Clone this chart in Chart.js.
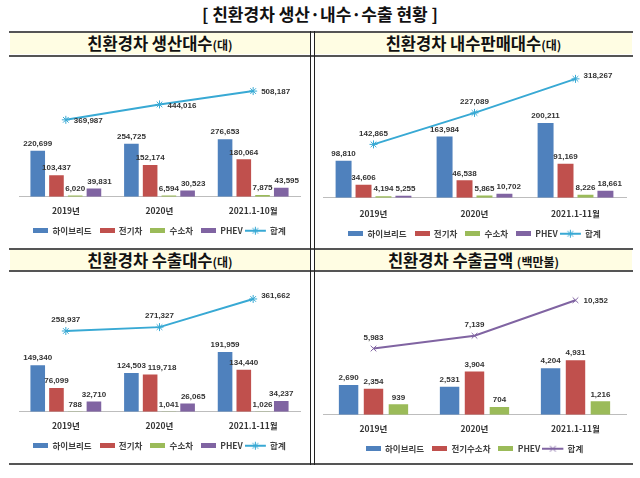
<!DOCTYPE html>
<html>
<head>
<meta charset="utf-8">
<script src="https://cdn.jsdelivr.net/npm/chart.js@4.4.1/dist/chart.umd.min.js"></script>
<style>
  body { margin: 0; width: 640px; height: 478px; background: #fff; position: relative; overflow: hidden;
         font-family: "Noto Sans CJK KR", sans-serif; color: #111; }
  .title { position: absolute; top: 1px; left: 0; width: 640px; text-align: center; font-size: 17px; font-weight: bold; }
  .hline { position: absolute; left: 9px; width: 624px; height: 2px; background: #555; }
  .vline { position: absolute; top: 31px; width: 1px; height: 434px; background: #222; }
  .hdr { position: absolute; height: 21px; background: #fffde3; text-align: center; font-weight: bold;
         font-size: 16.5px; line-height: 21px; }
  .hdr small { font-size: 12px; }
  canvas { position: absolute; }
</style>
</head>
<body>
<div class="title">[ 친환경차 생산·내수·수출 현황 ]</div>

<div class="hdr" style="top:33px;left:10px;width:300px">친환경차 생산대수<small>(대)</small></div>
<div class="hdr" style="top:33px;left:315px;width:317px">친환경차 내수판매대수<small>(대)</small></div>
<div class="hdr" style="top:250px;left:10px;width:300px">친환경차 수출대수<small>(대)</small></div>
<div class="hdr" style="top:250px;left:315px;width:317px">친환경차 수출금액 <small>(백만불)</small></div>

<div class="hline" style="top:31px"></div>
<div class="hline" style="top:55px"></div>
<div class="hline" style="top:248px"></div>
<div class="hline" style="top:270px"></div>
<div class="hline" style="top:463px"></div>
<div class="vline" style="left:310px"></div>
<div class="vline" style="left:314px"></div>

<canvas id="prodChart" width="300" height="191" style="left:10px;top:57px"></canvas>
<canvas id="domChart" width="317" height="191" style="left:315px;top:57px"></canvas>
<canvas id="expChart" width="300" height="191" style="left:10px;top:272px"></canvas>
<canvas id="amtChart" width="317" height="191" style="left:315px;top:272px"></canvas>

<script>
/* ===================== DATA ===================== */
const years10 = ["2019년", "2020년", "2021.1-10월"];
const years11 = ["2019년", "2020년", "2021.1-11월"];
const unitNames = ["하이브리드", "전기차", "수소차", "PHEV", "합계"];
const amountNames = ["하이브리드", "전기수소차", "PHEV", "합계"];

// 생산대수
const prodHybrid = [220699, 254725, 276653];
const prodEV = [103437, 152174, 180064];
const prodFCEV = [6020, 6594, 7875];
const prodPHEV = [39831, 30523, 43595];
const prodTotal = [369987, 444016, 508187];

// 내수판매대수
const domHybrid = [98810, 163984, 200211];
const domEV = [34606, 46538, 91169];
const domFCEV = [4194, 5865, 8226];
const domPHEV = [5255, 10702, 18661];
const domTotal = [142865, 227089, 318267];

// 수출대수
const expHybrid = [149340, 124503, 191959];
const expEV = [76099, 119718, 134440];
const expFCEV = [788, 1041, 1026];
const expPHEV = [32710, 26065, 34237];
const expTotal = [258937, 271327, 361662];

// 수출금액 (백만불)
const amtHybrid = [2690, 2531, 4204];
const amtEVFC = [2354, 3904, 4931];
const amtPHEV = [939, 704, 1216];
const amtTotal = [5983, 7139, 10352];

/* ===================== STYLE ===================== */
const BLUE = "#4f81bd", RED = "#c0504d", GREEN = "#9bbb59", PURPLE = "#8064a2", CYAN = "#38a9d4";
const KR = "'Noto Sans CJK KR', sans-serif";
const LABEL_FONT = "bold 8px 'Liberation Sans', Arial, sans-serif";

/* ===================== LEGEND ICONS ===================== */
function boxIcon(color) {
  const c = document.createElement("canvas");
  c.width = 15; c.height = 5;
  const g = c.getContext("2d");
  g.fillStyle = color;
  g.fillRect(0, 0, 15, 5);
  return c;
}

function drawMarker(g, x, y, r, style) {
  g.beginPath();
  if (style === "star") {
    g.moveTo(x - r, y); g.lineTo(x + r, y);
    g.moveTo(x, y - r); g.lineTo(x, y + r);
  }
  const d = r * 0.72;
  g.moveTo(x - d, y - d); g.lineTo(x + d, y + d);
  g.moveTo(x - d, y + d); g.lineTo(x + d, y - d);
  g.stroke();
}

// drawn centred on the 15px legend box, reaching 6px further left
function lineIcon(color, style) {
  const c = document.createElement("canvas");
  c.width = 27; c.height = 10;
  const g = c.getContext("2d");
  g.strokeStyle = color;
  g.lineWidth = 2;
  g.beginPath(); g.moveTo(0, 5); g.lineTo(21, 5); g.stroke();
  g.lineWidth = 1;
  drawMarker(g, 10.5, 5, 4, style);
  return c;
}

/* ===================== VALUE LABELS ===================== */
const valueLabels = {
  id: "valueLabels",
  afterDatasetsDraw(chart, args, opts) {
    const ctx = chart.ctx;
    ctx.save();
    ctx.font = LABEL_FONT;
    ctx.fillStyle = "#333";
    const placed = {};
    chart.data.datasets.forEach((ds, di) => {
      chart.getDatasetMeta(di).data.forEach((el, i) => {
        const txt = ds.data[i].toLocaleString("en-US");
        if (ds.type === "line") {
          if (opts.linePos[i] === "right") {
            ctx.textAlign = "left"; ctx.textBaseline = "middle";
            ctx.fillText(txt, el.x + 8, el.y + opts.rightDy);
          } else {
            ctx.textAlign = "center"; ctx.textBaseline = "bottom";
            ctx.fillText(txt, el.x, el.y - 7);
          }
          return;
        }
        // bar label: push right if it runs into the previous one
        const w = ctx.measureText(txt).width;
        let x = el.x;
        const y = el.y - 3;
        const prev = placed[i];
        if (prev && y - 8 < prev.bottom && y > prev.bottom - 8 && x - w / 2 < prev.right + 2)
          x = prev.right + 2 + w / 2;
        placed[i] = { right: x + w / 2, bottom: y };
        ctx.textAlign = "center"; ctx.textBaseline = "bottom";
        ctx.fillText(txt, x, y);
      });
    });
    ctx.restore();
  }
};

/* ===================== DATASETS ===================== */
const bar = (label, data, color) => ({ label, data, backgroundColor: color, borderWidth: 0, icon: boxIcon(color) });
const line = (label, data, color, marker) => ({
  type: "line", label, data, borderColor: color, backgroundColor: color, borderWidth: 2,
  pointStyle: marker, pointRadius: 4, pointBorderWidth: 1, pointBorderColor: color,
  icon: lineIcon(color, marker)
});

/* ===================== CHART FACTORY ===================== */
// box: padding, tick padding and axis height for each panel
function makeChart(id, labels, datasets, yMax, linePos, rightDy, barOpts, box) {
  return new Chart(document.getElementById(id), {
    type: "bar",
    data: { labels, datasets },
    options: {
      responsive: false,
      animation: false,
      layout: { padding: box.pad },
      datasets: { bar: barOpts },
      scales: {
        x: {
          grid: { display: false, drawTicks: false },
          border: { color: "#bdbdbd" },
          ticks: { padding: box.tickPad, color: "#333", font: { family: KR, size: 8.5, weight: "bold" } },
          afterFit: s => { s.height = box.axisH; }
        },
        y: { display: false, min: 0, max: yMax }
      },
      plugins: {
        tooltip: { enabled: false },
        legend: {
          position: "bottom",
          labels: {
            usePointStyle: true,
            pointStyleWidth: 15,
            padding: 8,
            color: "#404040",
            font: { family: KR, size: 8.5, weight: "bold" },
            generateLabels: ch => Chart.defaults.plugins.legend.labels.generateLabels(ch)
              .map(it => ({ ...it, pointStyle: ch.data.datasets[it.datasetIndex].icon }))
          }
        },
        valueLabels: { linePos, rightDy }
      }
    },
    plugins: [valueLabels]
  });
}

/* ===================== DRAW ===================== */
const fourBars = { categoryPercentage: 0.8, barPercentage: 0.78 };
const leftBox = { pad: { top: 15, left: 9, right: 10, bottom: 3 }, tickPad: 9, axisH: 21.75 };

makeChart("prodChart", years10, [
  bar(unitNames[0], prodHybrid, BLUE),
  bar(unitNames[1], prodEV, RED),
  bar(unitNames[2], prodFCEV, GREEN),
  bar(unitNames[3], prodPHEV, PURPLE),
  line(unitNames[4], prodTotal, CYAN, "star")
], 600000, ["right", "right", "right"], 1, fourBars, leftBox);

makeChart("domChart", years11, [
  bar(unitNames[0], domHybrid, BLUE),
  bar(unitNames[1], domEV, RED),
  bar(unitNames[2], domFCEV, GREEN),
  bar(unitNames[3], domPHEV, PURPLE),
  line(unitNames[4], domTotal, CYAN, "star")
], 350000, ["top", "top", "right"], -3, { categoryPercentage: 0.79, barPercentage: 0.8 },
{ pad: { top: 10, left: 8, right: 6, bottom: 0 }, tickPad: 11, axisH: 23.75 });

makeChart("expChart", years11, [
  bar(unitNames[0], expHybrid, BLUE),
  bar(unitNames[1], expEV, RED),
  bar(unitNames[2], expFCEV, GREEN),
  bar(unitNames[3], expPHEV, PURPLE),
  line(unitNames[4], expTotal, CYAN, "star")
], 400000, ["top", "top", "right"], -3, fourBars, leftBox);

makeChart("amtChart", years11, [
  bar(amountNames[0], amtHybrid, BLUE),
  bar(amountNames[1], amtEVFC, RED),
  bar(amountNames[2], amtPHEV, GREEN),
  line(amountNames[3], amtTotal, PURPLE, "crossRot")
], 12000, ["top", "top", "right"], 1, { categoryPercentage: 0.74, barPercentage: 0.78 },
{ pad: { top: 10, left: 8, right: 6, bottom: 0 }, tickPad: 9, axisH: 21.75 });
</script>
</body>
</html>
